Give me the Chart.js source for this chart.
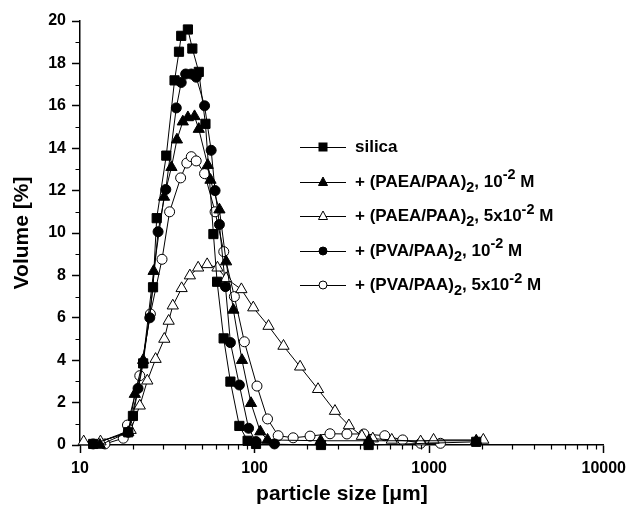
<!DOCTYPE html>
<html>
<head>
<meta charset="utf-8">
<script src="https://cdn.jsdelivr.net/npm/chart.js@4.4.0/dist/chart.umd.min.js"></script>
<style>
  html, body { margin: 0; padding: 0; background: #fff; }
  #wrap { position: relative; width: 632px; height: 507px; }
  #legend { position: absolute; left: 300px; top: 0; font: bold 17px "Liberation Sans", Arial, sans-serif; color: #000; }
  .row { position: absolute; left: 0; height: 20px; display: flex; align-items: center; white-space: nowrap; }
  .row svg { margin-right: 9px; }
  .sb { font-size: 0.85em; position: relative; top: 0.38em; }
  .sp { font-size: 0.85em; position: relative; top: -0.5em; }
</style>
</head>
<body>
<div id="wrap">
  <canvas id="c" width="632" height="507"></canvas>
  <div id="legend"></div>
</div>
<script>
// ── particle size distributions (volume %) ──

const xTicks = [10, 100, 1000, 10000];

const sizeSilica = [11.9, 18.9, 20.1, 23.0, 26.2, 27.5, 31.2, 34.8, 36.9, 38.0, 41.5, 44.0, 47.9, 52.3, 58.1, 61.0, 66.5, 72.7, 81.8, 91.2, 101.9, 240, 450, 1860];
const volSilica  = [0.05, 0.6, 1.37, 3.85, 7.44, 10.7, 13.65, 17.2, 18.55, 19.3, 19.6, 18.7, 17.6, 15.15, 9.95, 7.7, 5.03, 2.99, 0.9, 0.2, 0.05, 0, 0, 0.15];

const sizePaea1 = [13.0, 18.9, 20.6, 23.0, 26.4, 30.3, 33.4, 35.9, 38.8, 41.5, 45.3, 47.9, 53.9, 55.9, 62.9, 68.7, 75.6, 84.7, 95.4, 107.8, 118.6, 239, 451, 1860];
const volPaea1  = [0, 0.6, 2.4, 4.0, 8.2, 11.7, 13.1, 14.4, 15.25, 15.45, 15.5, 14.9, 13.2, 12.5, 11.1, 8.65, 6.37, 4.0, 1.97, 0.63, 0.24, 0.2, 0.2, 0.2];

const sizePaea5 = [10.5, 13.1, 19.5, 22.0, 24.3, 27.1, 30.4, 32.2, 34.0, 38.2, 42.6, 47.5, 53.5, 61.3, 68.7, 84.0, 98.3, 120.2, 146.4, 182.3, 230.9, 288.7, 346.9, 411.6, 475.5, 610.5, 893.3, 1059.5, 2043];
const volPaea5  = [0.16, 0.16, 0.7, 1.85, 3.03, 4.05, 5.0, 5.85, 6.57, 7.39, 7.99, 8.36, 8.52, 8.36, 7.86, 7.34, 6.48, 5.61, 4.67, 3.69, 2.63, 1.6, 0.92, 0.42, 0.3, 0.24, 0.16, 0.24, 0.24];

const sizePva1 = [11.9, 18.9, 21.5, 25.1, 28.0, 31.0, 35.6, 38.0, 40.3, 43.4, 46.3, 51.7, 56.4, 59.4, 62.9, 68.1, 72.7, 81.8, 92.4, 101.9, 130];
const volPva1  = [0.05, 0.6, 2.67, 6.0, 10.06, 12.05, 15.9, 17.1, 17.5, 17.5, 17.35, 16.0, 13.9, 12.0, 10.4, 7.47, 4.83, 2.83, 0.79, 0.16, 0.05];

const sizePva5 = [13.9, 17.7, 18.7, 22.0, 25.3, 29.5, 32.6, 37.7, 40.9, 43.4, 46.3, 51.7, 59.4, 66.6, 76.6, 87.4, 103.2, 118.6, 136.5, 166.3, 207.8, 270.3, 338, 422.5, 556.8, 705.2, 893.3, 1161];
const volPva5  = [0.05, 0.32, 0.94, 3.27, 6.18, 8.76, 11.0, 12.6, 13.3, 13.6, 13.4, 12.8, 11.0, 9.12, 7.0, 4.87, 2.78, 1.23, 0.44, 0.34, 0.42, 0.53, 0.52, 0.52, 0.44, 0.24, 0.08, 0.08];

const seriesLabels = [
  'silica',
  '+ (PAEA/PAA)<span class="sb">2</span>, 10<span class="sp">-2</span> M',
  '+ (PAEA/PAA)<span class="sb">2</span>, 5x10<span class="sp">-2</span> M',
  '+ (PVA/PAA)<span class="sb">2</span>, 10<span class="sp">-2</span> M',
  '+ (PVA/PAA)<span class="sb">2</span>, 5x10<span class="sp">-2</span> M'
];

function series(label, xs, ys, style, r, fill) {
  return {
    label, data: xs.map((x, i) => ({ x, y: ys[i] })),
    borderColor: '#000', borderWidth: 1, tension: 0, fill: false, clip: false,
    pointStyle: style, pointRadius: r, pointHoverRadius: r,
    pointBackgroundColor: fill, pointBorderColor: '#000', pointBorderWidth: 1
  };
}

const datasets = [
  series(seriesLabels[0], sizeSilica, volSilica, 'rect', 6.5, '#000'),
  series(seriesLabels[1], sizePaea1, volPaea1, 'triangle', 6.5, '#000'),
  series(seriesLabels[2], sizePaea5, volPaea5, 'triangle', 6.5, '#fff'),
  series(seriesLabels[3], sizePva1, volPva1, 'circle', 5, '#000'),
  series(seriesLabels[4], sizePva5, volPva5, 'circle', 5, '#fff')
];

// minor ticks (shorter than the major ones)
const minorTicks = {
  id: 'minorTicks',
  afterDraw(chart) {
    const { ctx, chartArea: a, scales: { x, y } } = chart;
    ctx.save();
    ctx.strokeStyle = '#000'; ctx.lineWidth = 1.2;
    ctx.beginPath();
    for (let v = 1; v < 20; v += 2) {
      const py = Math.round(y.getPixelForValue(v)) + 0.5;
      ctx.moveTo(a.left - 4.5, py); ctx.lineTo(a.left, py);
    }
    for (let d = 10; d < 10000; d *= 10) {
      for (let m = 2; m < 10; m++) {
        const px = Math.round(x.getPixelForValue(d * m)) + 0.5;
        ctx.moveTo(px, a.bottom); ctx.lineTo(px, a.bottom + 4.5);
      }
    }
    ctx.stroke();
    ctx.restore();
  }
};

const font = { family: '"Liberation Sans", Arial, sans-serif', weight: 'bold' };

new Chart(document.getElementById('c').getContext('2d'), {
  type: 'line',
  data: { datasets },
  plugins: [minorTicks],
  options: {
    responsive: false, animation: false,
    layout: { padding: { top: 21, right: 25, left: 0, bottom: 0 } },
    plugins: { legend: { display: false }, tooltip: { enabled: false } },
    scales: {
      x: {
        type: 'logarithmic', min: 10, max: 10000,
        afterBuildTicks: s => { s.ticks = xTicks.map(v => ({ value: v })); },
        afterFit: s => { s.height = 62; },
        border: { display: true, color: '#000', width: 1.5 },
        grid: { drawOnChartArea: false, tickLength: 8, tickColor: '#000', tickWidth: 1.5 },
        ticks: { autoSkip: false, maxRotation: 0, padding: 6, color: '#000', font: { ...font, size: 16 }, callback: v => String(v) },
        title: { display: true, text: 'particle size [μm]', color: '#000', font: { ...font, size: 21 }, padding: { top: 0, bottom: 0 } }
      },
      y: {
        min: 0, max: 20,
        afterFit: s => { s.width = 80; },
        border: { display: true, color: '#000', width: 1.5 },
        grid: { drawOnChartArea: false, tickLength: 8, tickColor: '#000', tickWidth: 1.5 },
        ticks: { stepSize: 2, padding: 6, color: '#000', font: { ...font, size: 16 } },
        title: { display: true, text: 'Volume [%]', color: '#000', font: { ...font, size: 21 }, padding: { top: 10, bottom: 0 } }
      }
    }
  }
});

// legend with sub/superscripts
const rowY = [147, 181.5, 216, 250.5, 285];
const legendMarks = [['rect', '#000'], ['tri', '#000'], ['tri', '#fff'], ['circ', '#000'], ['circ', '#fff']];
function mark(kind, fill) {
  let m;
  if (kind === 'rect') m = `<rect x="19" y="3" width="8" height="8" fill="${fill}" stroke="#000"/>`;
  else if (kind === 'tri') m = `<polygon points="23,2 27.5,10.5 18.5,10.5" fill="${fill}" stroke="#000"/>`;
  else m = `<circle cx="23" cy="7" r="4" fill="${fill}" stroke="#000"/>`;
  return `<svg width="46" height="14"><line x1="0" y1="7.5" x2="46" y2="7.5" stroke="#000" stroke-width="1"/>${m}</svg>`;
}
const legend = document.getElementById('legend');
seriesLabels.forEach((t, i) => {
  const row = document.createElement('div');
  row.className = 'row';
  row.style.top = (rowY[i] - 10) + 'px';
  row.innerHTML = mark(...legendMarks[i]) + '<span>' + t + '</span>';
  legend.appendChild(row);
});
</script>
</body>
</html>
